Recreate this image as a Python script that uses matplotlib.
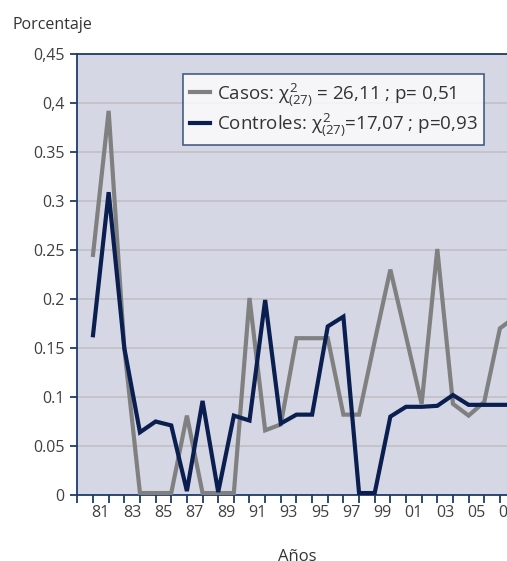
import matplotlib
matplotlib.use("Agg")
import matplotlib.pyplot as plt
from matplotlib.ticker import FixedLocator, NullFormatter, FixedFormatter

plt.rcParams['font.family'] = ['Open Sans', 'DejaVu Sans']
plt.rcParams['mathtext.fontset'] = 'custom'
plt.rcParams['mathtext.rm'] = 'Open Sans'
plt.rcParams['mathtext.it'] = 'Open Sans'

years = ['81', '82', '83', '84', '85', '86', '87', '88', '89', '90', '91', '92', '93', '94',
         '95', '96', '97', '98', '99', '00', '01', '02', '03', '04', '05', '06', '07', '08']
casos = [0.245, 0.392, 0.150, 0.002, 0.002, 0.002, 0.081, 0.002, 0.002, 0.002, 0.201, 0.066,
         0.072, 0.160, 0.160, 0.160, 0.082, 0.082, 0.157, 0.230, 0.162, 0.093, 0.251, 0.093,
         0.081, 0.095, 0.170, 0.182]
controles = [0.163, 0.309, 0.150, 0.064, 0.075, 0.071, 0.004, 0.096, 0.003, 0.081, 0.076, 0.199,
             0.073, 0.082, 0.082, 0.172, 0.182, 0.002, 0.002, 0.080, 0.090, 0.090, 0.091, 0.102,
             0.092, 0.092, 0.092, 0.092]
ytick_vals = [0, 0.05, 0.1, 0.15, 0.2, 0.25, 0.3, 0.35, 0.4, 0.45]
ytick_labels = ['0', '0.05', '0.1', '0.15', '0.2', '0.25', '0.3', '0.35', '0,4', '0,45']
label_casos = r'Casos: $\chi^{2}_{(27)}$ = 26,11 ; p= 0,51'
label_controles = r'Controles: $\chi^{2}_{(27)}$=17,07 ; p=0,93'

W, H = 507, 561
fig = plt.figure(figsize=(W / 100, H / 100), dpi=100)
x0 = 77.35
step = 15.65
xr = x0 + step * 29
ax = fig.add_axes([x0 / W, (H - 495) / H, (xr - x0) / W, (495 - 54) / H])
ax.set_facecolor('#D5D7E4')

xs = list(range(len(years)))
ax.plot(xs, casos, color='#808080', lw=3.0, label=label_casos, solid_joinstyle='miter', zorder=3)
ax.plot(xs, controles, color='#0B1E50', lw=3.0, label=label_controles, solid_joinstyle='miter', zorder=3)

ax.set_xlim(-1, 28)
ax.set_ylim(0, 0.45)
ax.set_yticks(ytick_vals)
ax.set_yticklabels(ytick_labels)
ax.yaxis.grid(True, color='#C0C0C4', lw=1.2)
ax.set_axisbelow(True)

ax.xaxis.set_major_locator(FixedLocator(list(range(-1, 29))))
ax.xaxis.set_major_formatter(NullFormatter())
minor_pos = [i + 0.5 for i in range(0, len(years), 2)]
ax.xaxis.set_minor_locator(FixedLocator(minor_pos))
ax.xaxis.set_minor_formatter(FixedFormatter(years[::2]))
ax.tick_params(axis='x', which='major', length=6, width=1.3, color='#1F3A6B', direction='out')
ax.tick_params(axis='x', which='minor', length=0, labelsize=11.5, labelcolor='#404040', pad=7)
ax.tick_params(axis='y', length=5, width=1.3, color='#1F3A6B', labelsize=11.5, labelcolor='#404040', pad=4)

for s in ['left', 'bottom', 'top', 'right']:
    ax.spines[s].set_color('#1F3A6B')
    ax.spines[s].set_linewidth(1.3)

leg = ax.legend(loc='upper left', bbox_to_anchor=((183 - x0) / (xr - x0), 1 - (74 - 54) / 441),
                fontsize=13.5, frameon=True, fancybox=False, handlelength=1.1,
                borderpad=0.35, labelspacing=0.2, handletextpad=0.35, borderaxespad=0)
leg.get_frame().set_edgecolor('#1F3A6B')
leg.get_frame().set_linewidth(1.2)
for t in leg.get_texts():
    t.set_color('#333333')

fig.text(12 / W, 1 - 25 / H, 'Porcentaje', fontsize=11.5, color='#333333', va='center', ha='left')
fig.text(297 / W, 1 - 557 / H, 'Años', fontsize=12, color='#333333', va='center', ha='center')

fig.savefig('out.png', dpi=100)
